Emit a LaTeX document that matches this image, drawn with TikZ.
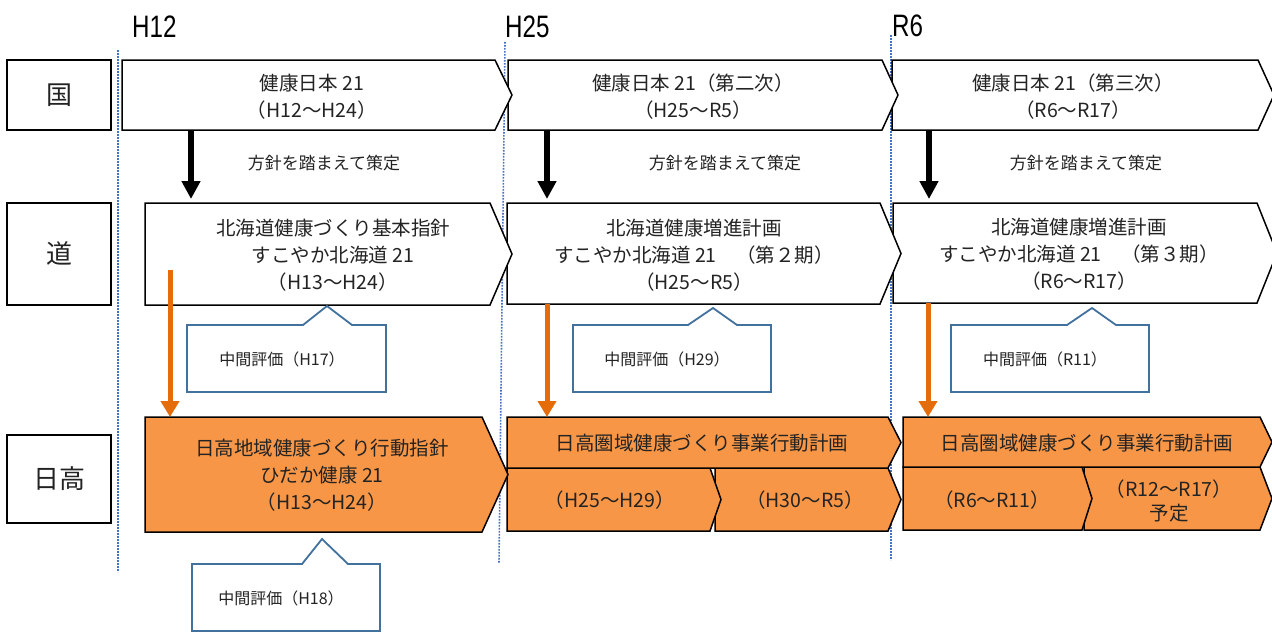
\documentclass[tikz,border=0pt]{standalone}
\usepackage{fontspec}
\usepackage{graphicx}
\setmainfont{Noto Sans CJK JP}
\newfontfamily\yearfont{Liberation Sans}
\usetikzlibrary{calc,arrows.meta}
\definecolor{dotblue}{RGB}{68,114,196}
\definecolor{orfill}{RGB}{247,150,70}
\definecolor{orarr}{RGB}{228,108,10}
\definecolor{callblue}{RGB}{65,113,156}
\definecolor{txt}{RGB}{35,35,35}

\newcommand{\mychev}[7]{%
  \node[inner sep=0pt, outer sep=0pt, minimum width={(#5)-(#3)}, minimum height={(#6)-(#4)}] (#1) at ({((#3)+(#5))/2},{((#4)+(#6))/2}) {};
  \draw[#2] (#1.north west) -- (#1.north east) -- ($(#1.east)+(#7,0)$) -- (#1.south east) -- (#1.south west) -- cycle;
}
\newcommand{\mycall}[9]{%
  \node[inner sep=0pt, outer sep=0pt, minimum width={(#4)-(#2)}, minimum height={(#5)-(#3)}] (#1) at ({((#2)+(#4))/2},{((#3)+(#5))/2}) {};
  \draw[callout] (#1.north west) -- (#8,#3) -- (#6,#7) -- (#9,#3) -- (#1.north east) -- (#1.south east) -- (#1.south west) -- cycle;
}
\newcommand{\yrtext}[1]{\scalebox{0.78}[1]{#1}}

\tikzset{
  lbox/.style={draw=black, line width=1.6pt, minimum width=104pt, inner sep=0pt, font=\fontsize{26}{30}\selectfont, text=txt},
  wchev/.style={draw=black, line width=1.5pt, fill=white, line join=miter},
  ochev/.style={draw=black, line width=1.5pt, fill=orfill, line join=miter},
  callout/.style={draw=callblue, line width=1.8pt, fill=white, line join=miter},
  mtxt/.style={font=\fontsize{19.5}{27}\selectfont, align=center, inner sep=0pt, text=txt},
  ntxt/.style={font=\fontsize{17}{20}\selectfont, inner sep=0pt, text=txt},
  ctxt/.style={font=\fontsize{16}{18}\selectfont, inner sep=0pt, text=txt},
  yr/.style={font=\yearfont\fontsize{31}{33}\selectfont, anchor=base west, inner sep=0pt},
  dotln/.style={draw=dotblue, line width=1.6pt, dash pattern=on 1.6pt off 1.4pt},
  blkarr/.style={draw=black, line width=5.5pt, -{Triangle[width=18pt,length=18pt]}, shorten >=4pt},
  orarrow/.style={draw=orarr, line width=5pt, -{Triangle[width=18pt,length=16pt]}},
}

\begin{document}
\begin{tikzpicture}[x=1pt,y=-1pt]
\useasboundingbox (0,0) rectangle (1272,633);

% year markers
\draw[dotln] (118,50) -- (118,572);
\draw[dotln] (505,42) -- (499,563);
\draw[dotln] (891,35) -- (891,560);
\node[yr] (y1) at (132,37) {\yrtext{H12}};
\node[yr] (y2) at (505,37) {\yrtext{H25}};
\node[yr] (y3) at (892,36) {\yrtext{R6}};

% left labels
\node[lbox, minimum height=70pt] (L1) at (59,95) {国};
\node[lbox, minimum height=102pt] (L2) at (59,254) {道};
\node[lbox, minimum height=88pt] (L3) at (59,479) {日高};

% row 1
\mychev{k3}{wchev}{892}{60}{1258}{130}{16}
\mychev{k2}{wchev}{508}{60}{882}{130}{16}
\mychev{k1}{wchev}{122}{60}{495}{130}{17}

% row 2
\mychev{d3}{wchev}{893}{203}{1257}{303}{20}
\mychev{d2}{wchev}{507}{203}{880}{304}{21}
\mychev{d1}{wchev}{145}{203}{490}{305}{22}

% row 3
\mychev{h3b}{ochev}{1084}{467}{1260}{530}{12}
\mychev{h3a}{ochev}{903}{467}{1082}{530}{10}
\mychev{h3t}{ochev}{903}{417}{1260}{467}{12}
\mychev{h2b}{ochev}{715}{468}{888}{531}{13}
\mychev{h2a}{ochev}{507}{468}{710}{531}{11}
\mychev{h2t}{ochev}{507}{417}{888}{468}{13}
\mychev{h1}{ochev}{145}{417}{482}{532}{26}

% callouts
\mycall{c1}{187}{325}{386}{392}{327}{306}{303}{352}
\mycall{c2}{573}{325}{771}{392}{713}{308}{688}{737}
\mycall{c3}{951}{325}{1149}{392}{1092}{308}{1067}{1116}
\mycall{c4}{192}{564}{380}{631}{322}{539}{302}{348}

% texts
\node[mtxt] (k1t) at (312,96.5) {健康日本 21\\（H12～H24）};
\node[mtxt] (k2t) at (693,96.5) {健康日本 21（第二次）\\（H25～R5）};
\node[mtxt] (k3t) at (1073,96.5) {健康日本 21（第三次）\\（R6～R17）};

\node[ntxt] (n1) at (324,163) {方針を踏まえて策定};
\node[ntxt] (n2) at (725,163) {方針を踏まえて策定};
\node[ntxt] (n3) at (1086,163) {方針を踏まえて策定};

\node[mtxt] (d1t) at (333,255) {北海道健康づくり基本指針\\すこやか北海道 21\\（H13～H24）};
\node[mtxt] (d2t) at (694,255) {北海道健康増進計画\\すこやか北海道 21　（第２期）\\（H25～R5）};
\node[mtxt] (d3t) at (1079,254) {北海道健康増進計画\\すこやか北海道 21　（第３期）\\（R6～R17）};

\node[ctxt] (c1t) at (282,359) {中間評価（H17）};
\node[ctxt] (c2t) at (667,359) {中間評価（H29）};
\node[ctxt] (c3t) at (1045,359) {中間評価（R11）};
\node[ctxt] (c4t) at (281,598) {中間評価（H18）};

\node[mtxt] (h1t) at (322,475) {日高地域健康づくり行動指針\\ひだか健康 21\\（H13～H24）};
\node[mtxt] (h2tt) at (702,443) {日高圏域健康づくり事業行動計画};
\node[mtxt] (h2at) at (610,500) {（H25～H29）};
\node[mtxt] (h2bt) at (805,500) {（H30～R5）};
\node[mtxt] (h3tt) at (1087,443) {日高圏域健康づくり事業行動計画};
\node[mtxt] (h3at) at (992,500) {（R6～R11）};
\node[mtxt, font=\fontsize{19.5}{24}\selectfont] (h3bt) at (1169,501) {（R12～R17）\\予定};

% arrows
\coordinate (ba1) at (191,0);
\coordinate (ba2) at (547,0);
\coordinate (ba3) at (929,0);
\draw[blkarr] (k1.south -| ba1) -- (d1.north -| ba1);
\draw[blkarr] (k2.south -| ba2) -- (d2.north -| ba2);
\draw[blkarr] (k3.south -| ba3) -- (d3.north -| ba3);

\coordinate (oa1) at (170,270);
\coordinate (oa2) at (547,0);
\coordinate (oa3) at (928,0);
\draw[orarrow] (oa1) -- (h1.north -| oa1);
\draw[orarrow] (d2.south -| oa2) -- (h2t.north -| oa2);
\draw[orarrow] (d3.south -| oa3) -- (h3t.north -| oa3);
\end{tikzpicture}
\end{document}
